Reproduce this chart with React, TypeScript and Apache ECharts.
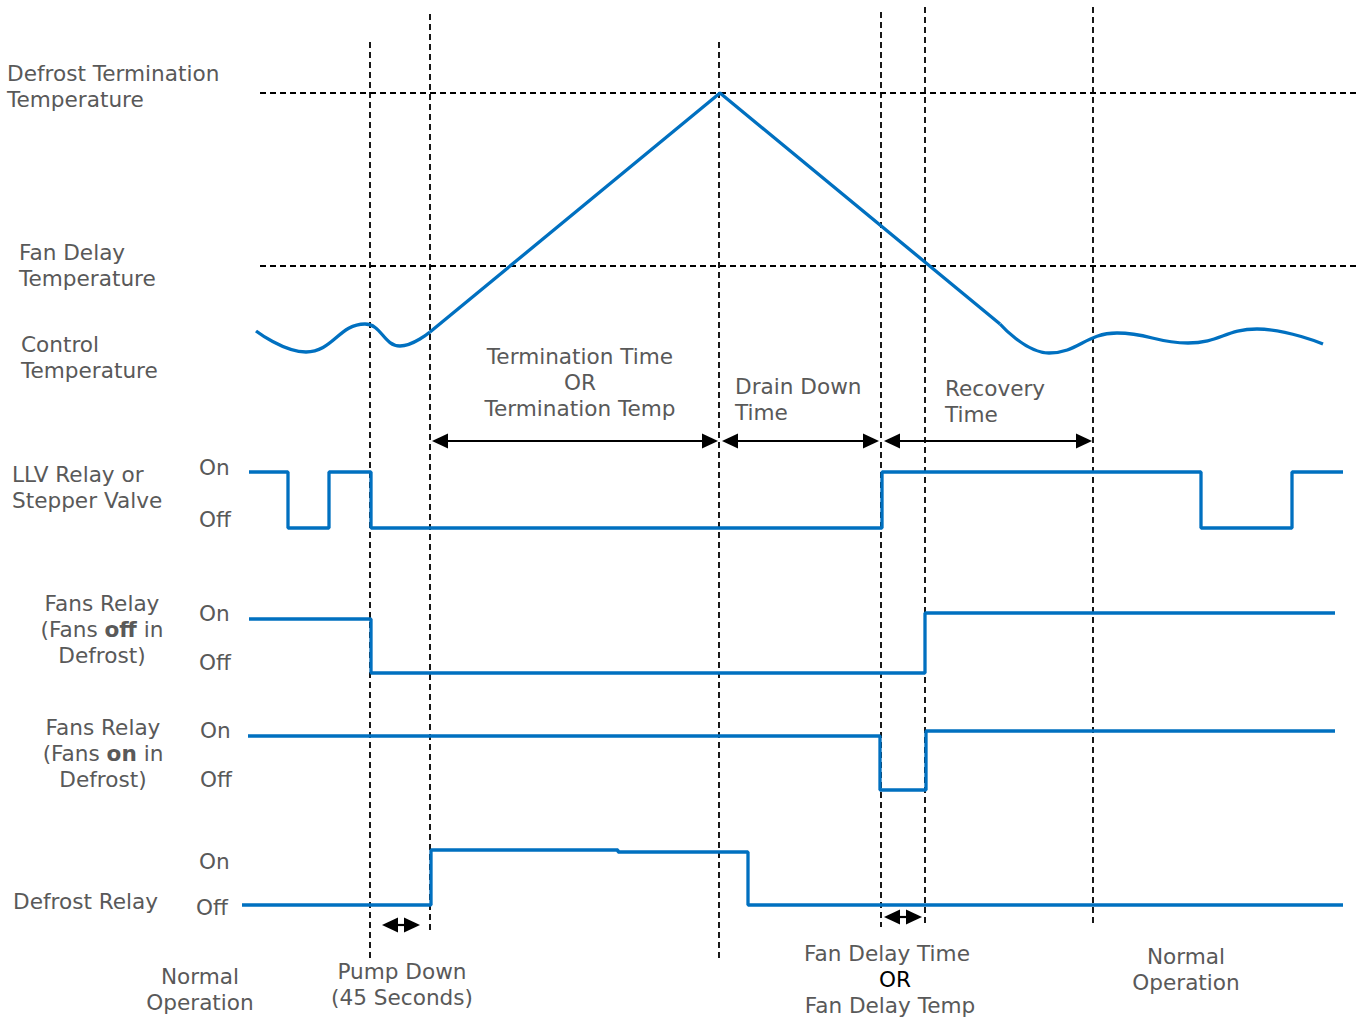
import React, { useEffect, useRef } from "react";
import * as echarts from "echarts";

// ---- data (time positions on x, levels on y, both in diagram units) ----
const thresholdLines = [93, 266]; // Defrost termination temp, Fan delay temp
const thresholdSpan = [260, 1360];

// vertical event markers: time, top, bottom
const eventTimes = [370, 430, 719, 881, 925, 1093];
const eventTops = [42, 14, 42, 12, 7, 7];
const eventBottoms = [958, 930, 958, 927, 924, 924];

// control temperature
const tempWaveLeft: [number, number][] = [
  [256, 331], [306, 352], [365, 324], [400, 346], [430, 332],
];
const tempRamp: [number, number][] = [[430, 332], [720, 93], [1000, 324]];
const tempWaveRight: [number, number][] = [
  [1000, 324], [1049, 353], [1117, 333], [1188, 343], [1257, 329], [1323, 344],
];

// relay signals (step: hold until next point)
const llvSignal: [number, number][] = [
  [249, 472], [288, 528], [329, 472], [371, 528], [882, 472], [1201, 528], [1292, 472], [1343, 472],
];
const fansOffSignal: [number, number][] = [[249, 619], [371, 673], [925, 613], [1335, 613]];
const fansOnSignal: [number, number][] = [[248, 736], [880, 790], [926, 731], [1335, 731]];
const defrostSignal: [number, number][] = [[242, 905], [431, 850], [618, 852], [748, 905], [1343, 905]];

// double-headed arrows: from, to, y
const spanArrows: [number, number, number][] = [
  [432, 718, 441],
  [722, 879, 441],
  [884, 1092, 441],
  [382, 420, 925],
  [884, 922, 917],
];

const BLUE = "#0070C0";
const GRAY = "#595959";
const FONT = "DejaVu Sans, Verdana, sans-serif";
const FS = 21.6;

function label(text: string, x: number, y: number, align: "left" | "center" = "left", fill = GRAY) {
  return {
    type: "text",
    x,
    y,
    silent: true,
    style: {
      text,
      fill,
      fontSize: FS,
      fontFamily: FONT,
      lineHeight: 26,
      align,
      verticalAlign: "middle",
      rich: {
        b: { fontWeight: "bold", fontSize: FS, fontFamily: FONT, fill: GRAY, lineHeight: 26 },
      },
    },
  };
}

export default function App() {
  const ref = useRef<HTMLDivElement>(null);
  useEffect(() => {
    if (!ref.current) return;
    document.body.style.margin = "0";
    const chart = echarts.init(ref.current, undefined, { renderer: "svg" });

    const dashed = { color: "#000", width: 1.8, type: [6, 4] as number[] };
    const series: any[] = [];

    thresholdLines.forEach((y, i) =>
      series.push({
        type: "line", name: "th" + i, silent: true, symbol: "none",
        lineStyle: dashed,
        data: [[thresholdSpan[0], y], [thresholdSpan[1], y]],
      })
    );
    eventTimes.forEach((x, i) =>
      series.push({
        type: "line", name: "ev" + i, silent: true, symbol: "none",
        lineStyle: dashed,
        data: [[x, eventTops[i]], [x, eventBottoms[i]]],
      })
    );

    const blue = { color: BLUE, width: 3.3 };
    series.push({ type: "line", silent: true, symbol: "none", smooth: 0.45, lineStyle: blue, data: tempWaveLeft });
    series.push({ type: "line", silent: true, symbol: "none", lineStyle: blue, data: tempRamp });
    series.push({ type: "line", silent: true, symbol: "none", smooth: 0.45, lineStyle: blue, data: tempWaveRight });

    [llvSignal, fansOffSignal, fansOnSignal, defrostSignal].forEach((sig) =>
      series.push({ type: "line", silent: true, symbol: "none", step: "end", lineStyle: blue, data: sig })
    );

    const inset = 8;
    series.push({
      type: "line", silent: true, symbol: "none", data: [],
      markLine: {
        silent: true,
        symbol: ["triangle", "triangle"],
        symbolSize: [15, 16],
        label: { show: false },
        lineStyle: { color: "#000", width: 2.2, type: "solid" },
        data: spanArrows.map(([a, b, y]) => [
          { coord: [a + inset, y] },
          { coord: [b - inset, y] },
        ]),
      },
    });

    chart.setOption({
      animation: false,
      grid: { left: 0, right: 0, top: 0, bottom: 0 },
      xAxis: { type: "value", min: 0, max: 1370, show: false },
      yAxis: { type: "value", min: 0, max: 1021, inverse: true, show: false },
      tooltip: { show: false },
      series,
      graphic: [
        label("Defrost Termination\nTemperature", 7, 86),
        label("Fan Delay\nTemperature", 19, 265),
        label("Control\nTemperature", 21, 357),
        label("Termination Time\nOR\nTermination Temp", 580, 382, "center"),
        label("Drain Down\nTime", 735, 399),
        label("Recovery\nTime", 945, 401),
        label("LLV Relay or\nStepper Valve", 12, 487),
        label("On", 199, 467),
        label("Off", 199, 519),
        label("Fans Relay\n(Fans {b|off} in\nDefrost)", 102, 629, "center"),
        label("On", 199, 613),
        label("Off", 199, 662),
        label("Fans Relay\n(Fans {b|on} in\nDefrost)", 103, 753, "center"),
        label("On", 200, 730),
        label("Off", 200, 779),
        label("On", 199, 861),
        label("Defrost Relay", 13, 901),
        label("Off", 196, 907),
        label("Normal\nOperation", 200, 989, "center"),
        label("Pump Down\n(45 Seconds)", 402, 984, "center"),
        label("Fan Delay Time", 887, 953, "center"),
        label("OR", 895, 979, "center", "#000"),
        label("Fan Delay Temp", 890, 1005, "center"),
        label("Normal\nOperation", 1186, 969, "center"),
      ],
    });
    return () => chart.dispose();
  }, []);
  return (
    <div style={{ position: "fixed", left: 0, top: 0, width: 1370, height: 1021, background: "#fff" }}>
      <div ref={ref} style={{ width: 1370, height: 1021 }} />
    </div>
  );
}
